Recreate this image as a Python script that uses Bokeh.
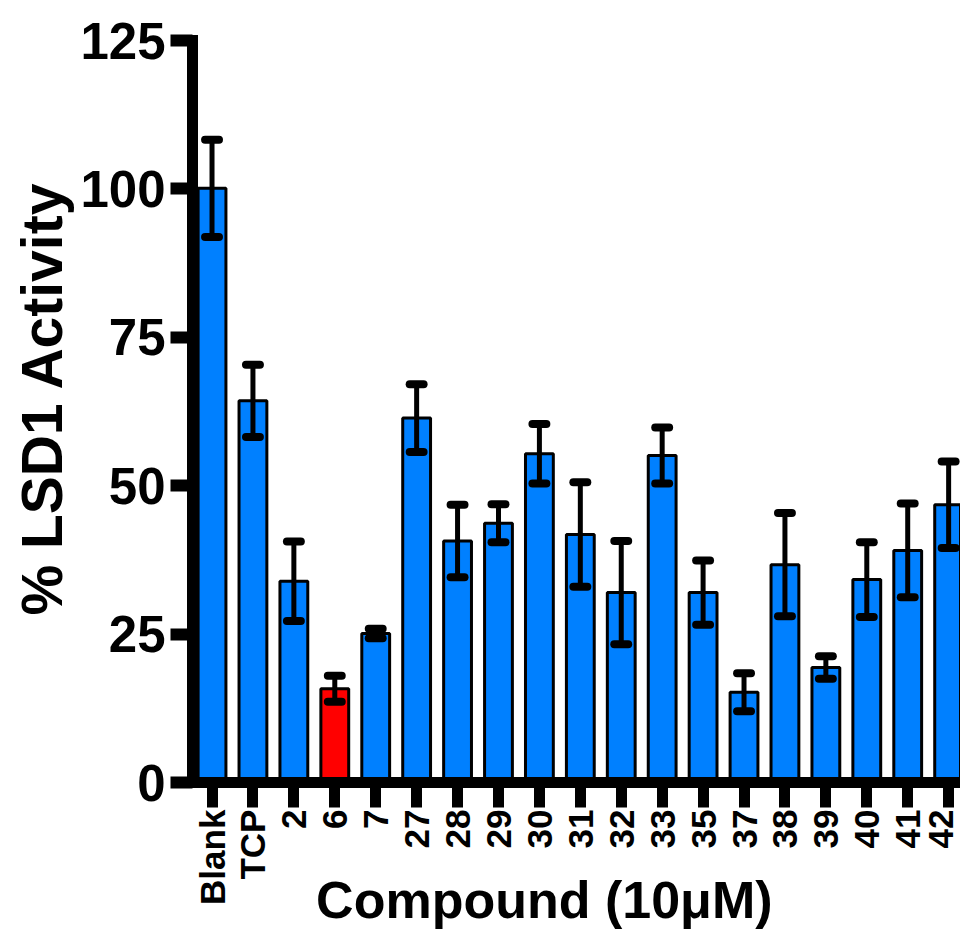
import numpy as np
from bokeh.plotting import figure
from bokeh.models import Range1d, FixedTicker, Label, ColumnDataSource, Title
from bokeh.embed import file_html
from bokeh.resources import INLINE

# ---- data ----
compounds = ["Blank", "TCP", "2", "6", "7", "27", "28", "29", "30", "31",
             "32", "33", "35", "37", "38", "39", "40", "41", "42"]
activity = [100.1, 64.3, 33.9, 15.8, 25.1, 61.4, 40.7, 43.7, 55.4, 41.8,
            32.0, 55.1, 32.0, 15.2, 36.7, 19.4, 34.2, 39.1, 46.8]
sem = [8.2, 6.1, 6.7, 2.2, 0.8, 5.7, 6.1, 3.2, 5.0, 8.8,
       8.7, 4.7, 5.4, 3.2, 8.7, 1.9, 6.3, 7.9, 7.3]
highlight = "6"
y_ticks = [0, 25, 50, 75, 100, 125]
x_title = "Compound (10\u03bcM)"
y_title = "% LSD1 Activity"

BLUE = "#0080FF"
RED = "#FF0000"
FONT = "Liberation Sans"

idx = np.arange(len(compounds))
act = np.array(activity)
err = np.array(sem)
colors = [RED if c == highlight else BLUE for c in compounds]

src = ColumnDataSource(dict(
    x=idx, top=act, color=colors,
    lo=act - err, hi=act + err,
    cx0=idx - 0.17, cx1=idx + 0.17,
))

# frame runs down to the page bottom so the x title can sit beside the
# rotated tick labels; the x axis is fixed at y = 0
p = figure(width=960, height=933, output_backend="svg", toolbar_location=None,
           x_range=Range1d(-0.477, 18.29), y_range=Range1d(-25.42, 125),
           min_border_left=192, min_border_right=0, min_border_top=40,
           min_border_bottom=0)
p.outline_line_color = None
p.grid.visible = False
p.background_fill_color = "white"

p.vbar(x="x", top="top", bottom=0, width=0.68, source=src,
       fill_color="color", line_color="black", line_width=3)

# error bars
p.segment(x0="x", y0="lo", x1="x", y1="hi", source=src,
          line_color="black", line_width=5)
p.segment(x0="cx0", y0="hi", x1="cx1", y1="hi", source=src,
          line_color="black", line_width=8, line_cap="round")
p.segment(x0="cx0", y0="lo", x1="cx1", y1="lo", source=src,
          line_color="black", line_width=8, line_cap="round")

# y axis
ya = p.yaxis[0]
ya.ticker = FixedTicker(ticks=y_ticks)
ya.bounds = (0, 125)
ya.minor_tick_line_color = None
ya.axis_line_width = 11
ya.axis_line_color = "black"
ya.axis_line_cap = "square"
ya.major_tick_line_width = 12
ya.major_tick_out = 22
ya.major_tick_in = 0
ya.major_label_standoff = 5
ya.major_label_text_font = FONT
ya.major_label_text_font_style = "bold"
ya.major_label_text_font_size = "51px"
ya.major_label_text_color = "black"

p.add_layout(Title(text=y_title, align="left", offset=318,
                   vertical_align="bottom", standoff=8,
                   text_font=FONT, text_font_style="bold",
                   text_font_size="57px", text_color="black"), "left")

# x axis
xa = p.xaxis[0]
xa.fixed_location = 0
xa.ticker = FixedTicker(ticks=list(idx))
xa.major_label_overrides = {int(i): c for i, c in zip(idx, compounds)}
xa.minor_tick_line_color = None
xa.axis_line_width = 11
xa.axis_line_color = "black"
xa.major_tick_line_width = 11
xa.major_tick_out = 25
xa.major_tick_in = 0
xa.major_label_standoff = 2
xa.major_label_orientation = np.pi / 2
xa.major_label_text_font = FONT
xa.major_label_text_font_style = "bold"
xa.major_label_text_font_size = "35px"
xa.major_label_text_color = "black"

# x title (offset from the frame centre as in the original)
p.add_layout(Label(x=8.12, y=-19.8, text=x_title, text_align="center",
                   text_baseline="alphabetic", text_font=FONT,
                   text_font_style="bold", text_font_size="52px",
                   text_color="black"))

open("out.html", "w").write(file_html(p, INLINE))
